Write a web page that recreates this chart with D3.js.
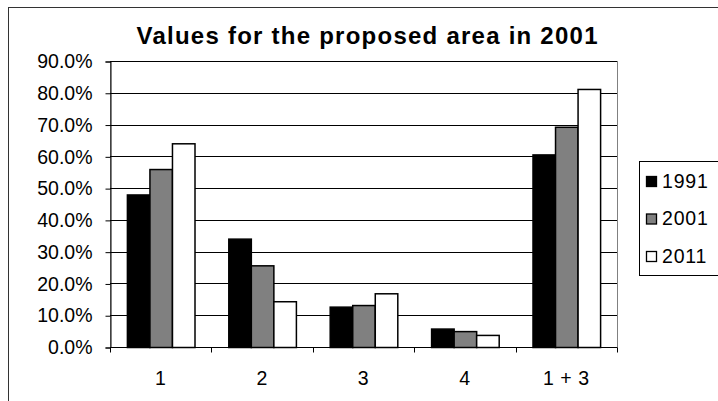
<!DOCTYPE html>
<html>
<head>
<meta charset="utf-8">
<script src="https://cdn.jsdelivr.net/npm/d3@7"></script>
<style>
  html, body { margin: 0; padding: 0; background: #fff; }
  svg { display: block; }
  text { font-family: "Liberation Sans", Arial, sans-serif; fill: #000; }
</style>
</head>
<body>
<svg id="chart" width="718" height="401"></svg>
<script>
// Share of the proposed area by category, per census year (percent)
const categories = ["1", "2", "3", "4", "1 + 3"];
const years = ["1991", "2001", "2011"];
const values1991 = [48.0, 34.1, 12.7, 5.8, 60.6];
const values2001 = [56.0, 25.7, 13.2, 5.0, 69.3];
const values2011 = [64.1, 14.4, 16.9, 3.8, 81.2];
const yTicks = [0, 10, 20, 30, 40, 50, 60, 70, 80, 90];
const titleText = "Values for the proposed area in 2001";

const seriesValues = [values1991, values2001, values2011];
const fills = ["#000000", "#808080", "#ffffff"];

const svg = d3.select("#chart");

// outer chart frame
svg.append("rect")
  .attr("x", 8.5).attr("y", 7.5)
  .attr("width", 760).attr("height", 420)
  .attr("fill", "#fff").attr("stroke", "#333").attr("stroke-width", 1);

const plot = { left: 110, right: 617, top: 61, bottom: 347 };

const x0 = d3.scaleBand().domain(categories).range([plot.left, plot.right]).padding(0);
const bw = x0.bandwidth();
const barW = bw / 4.5;            // gap width 150% of a bar
const x1 = d3.scaleBand().domain(years).range([barW * 0.75, bw - barW * 0.75]).padding(0);
const y = d3.scaleLinear().domain([0, 90]).range([plot.bottom, plot.top]);

// plot area frame
svg.append("rect")
  .attr("x", plot.left + 0.5).attr("y", plot.top + 0.5)
  .attr("width", plot.right - plot.left).attr("height", plot.bottom - plot.top)
  .attr("fill", "#fff").attr("stroke", "#808080");

// horizontal gridlines
svg.append("g").selectAll("line")
  .data(yTicks.filter(d => d > 0))
  .join("line")
  .attr("x1", plot.left).attr("x2", plot.right)
  .attr("y1", d => Math.round(y(d)) + 0.5).attr("y2", d => Math.round(y(d)) + 0.5)
  .attr("stroke", "#000").attr("stroke-width", 1);

// bars
const groups = svg.append("g").selectAll("g")
  .data(categories)
  .join("g")
  .attr("transform", d => `translate(${x0(d)},0)`);

groups.selectAll("rect")
  .data((c, i) => years.map((yr, s) => ({ yr, s, v: seriesValues[s][i] })))
  .join("rect")
  .attr("x", d => x1(d.yr) + 0.5)
  .attr("y", d => y(d.v) + 0.5)
  .attr("width", x1.bandwidth())
  .attr("height", d => y(0) - y(d.v))
  .attr("fill", d => fills[d.s])
  .attr("stroke", "#000").attr("stroke-width", 1.5);

// y axis
const yAxis = d3.axisLeft(y)
  .tickValues(yTicks)
  .tickSize(5)
  .tickPadding(13)
  .tickFormat(d => d.toFixed(1) + "%");
const gy = svg.append("g")
  .attr("transform", `translate(${plot.left + 0.5},0.5)`)
  .call(yAxis);
gy.select(".domain").attr("stroke", "#000");
gy.selectAll(".tick line").attr("stroke", "#000");
gy.selectAll(".tick text")
  .attr("font-size", 19.5)
  .attr("font-family", "Liberation Sans, Arial, sans-serif")
  .attr("fill", "#000");

// x axis: baseline, ticks between categories, centred labels
const xAxis = d3.axisBottom(x0).tickSize(0).tickPadding(24);
const gx = svg.append("g")
  .attr("transform", `translate(0,${plot.bottom + 0.5})`)
  .call(xAxis);
gx.select(".domain").attr("stroke", "#000").attr("d", `M${plot.left},0H${plot.right}`);
gx.selectAll(".tick text")
  .attr("font-size", 19.5)
  .attr("letter-spacing", 0.5)
  .attr("font-family", "Liberation Sans, Arial, sans-serif")
  .attr("fill", "#000");

const edges = categories.map(c => x0(c)).concat([plot.right]);
gx.append("g").selectAll("line")
  .data(edges)
  .join("line")
  .attr("x1", d => Math.round(d) + 0.5).attr("x2", d => Math.round(d) + 0.5)
  .attr("y1", 0).attr("y2", 5)
  .attr("stroke", "#000");

// title
svg.append("text")
  .attr("x", 367).attr("y", 44)
  .attr("text-anchor", "middle")
  .attr("font-size", 24)
  .attr("font-weight", "bold")
  .attr("textLength", 461)
  .attr("lengthAdjust", "spacing")
  .text(titleText);

// legend
const lg = svg.append("g").attr("transform", "translate(639,161)");
lg.append("rect")
  .attr("x", 0.5).attr("y", 0.5)
  .attr("width", 100).attr("height", 114)
  .attr("fill", "#fff").attr("stroke", "#000");

const rowH = 37.5;
const items = lg.selectAll("g.item")
  .data(years)
  .join("g")
  .attr("class", "item")
  .attr("transform", (d, i) => `translate(0,${20 + i * rowH})`);

items.append("rect")
  .attr("x", 7.5).attr("y", -4.5)
  .attr("width", 10).attr("height", 10)
  .attr("fill", (d, i) => fills[i])
  .attr("stroke", "#000").attr("stroke-width", 1.3);

items.append("text")
  .attr("x", 23).attr("y", 0)
  .attr("dy", "0.35em")
  .attr("font-size", 19.5)
  .attr("letter-spacing", 0.8)
  .text(d => d);
</script>
</body>
</html>
